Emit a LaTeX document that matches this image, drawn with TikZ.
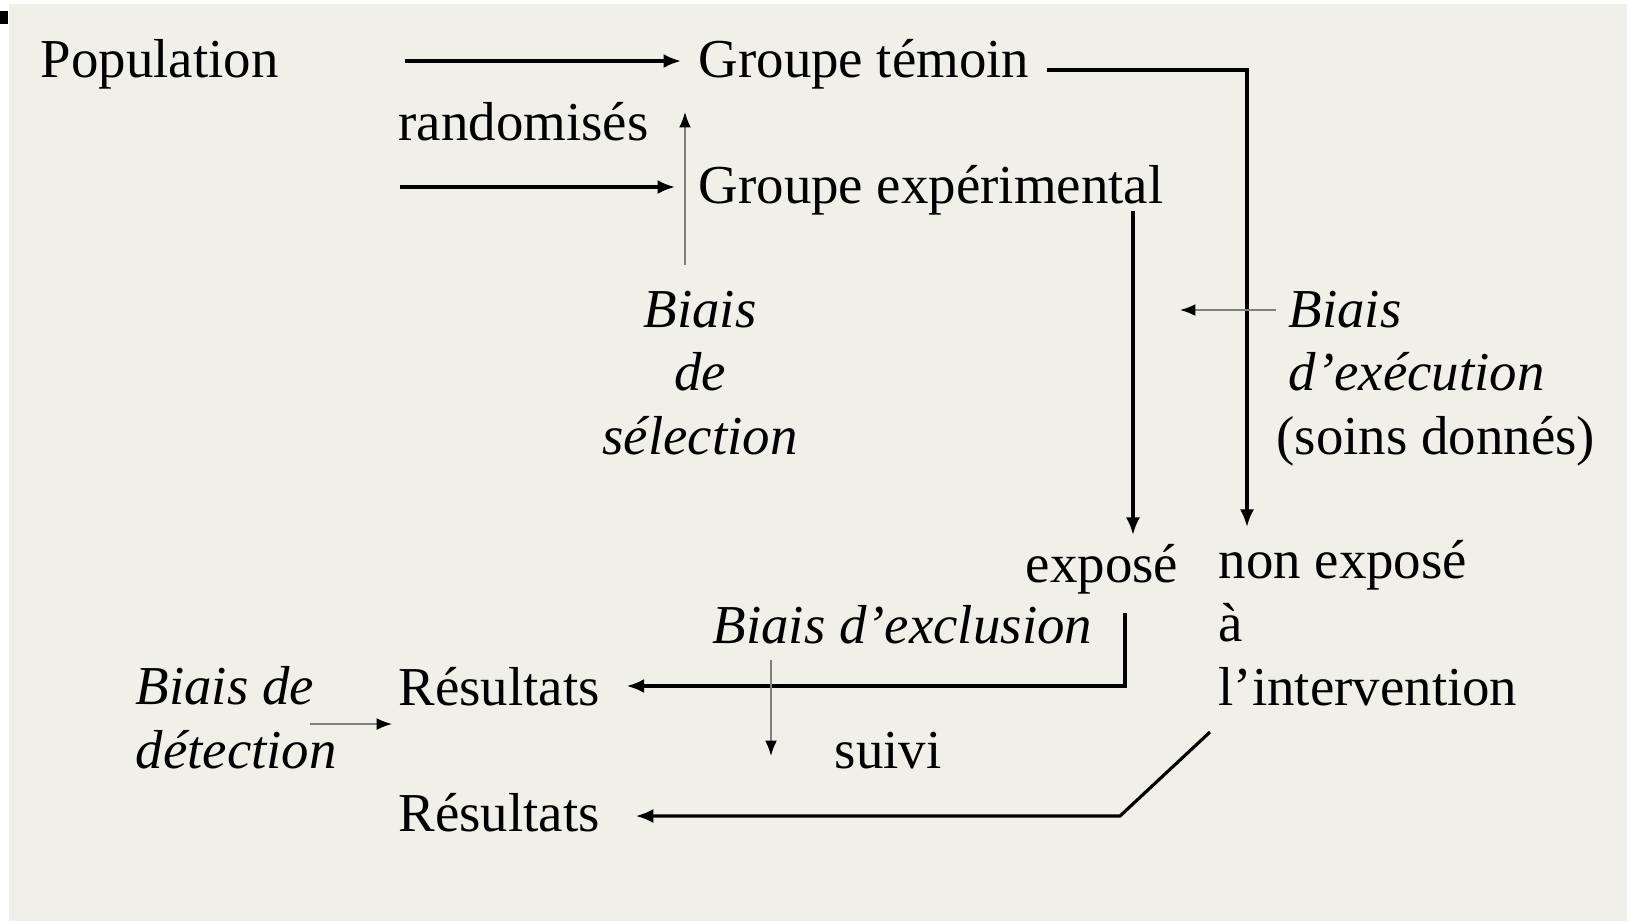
\documentclass[tikz,border=0pt]{standalone}
\usepackage{fontspec}
\setmainfont{Liberation Serif}
\usepackage{xcolor}
\usetikzlibrary{arrows.meta}
\definecolor{bg}{RGB}{240,240,233}
\tikzset{>={Latex[length=5pt,width=4pt]}}
\tikzset{
  txt/.style={inner sep=0pt, anchor=base west, font=\fontsize{15.6}{18}\selectfont},
  bias/.style={txt, font=\fontsize{15.6}{18}\selectfont\itshape},
  link/.style={line width=0.9pt, ->},
  hint/.style={line width=0.5pt, gray, -{Latex[length=4.4pt,width=3.4pt,black]}}
}

\begin{document}
\begin{tikzpicture}[x=0.01cm, y=-0.01cm]
          \useasboundingbox (0,0) rectangle (1629,923);
          \fill[white] (0,0) rectangle (1629,923);
          \fill[bg] (9,4) rectangle (1627,921);
          \fill[black] (0,11) rectangle (8,24);
          \node[txt] (pop) at (40,77) {Population};
          \node[txt] (temoin) at (698,77) {Groupe témoin};
          \node[txt] (rand) at (398,140) {randomisés};
          \node[txt] (exper) at (698,203) {Groupe expérimental};
          \node[bias, align=center, anchor=base] (selbias) at (700,454) {Biais\\de\\sélection};
          \node[bias, align=left] (execbias) at (1276,454) {\hspace*{3.4pt}Biais\\\hspace*{3.4pt}d’exécution\\\textup{(soins donnés)}};
          \node[txt, anchor=base east] (expose) at (1179,582) {exposé};
          \node[txt, align=left] (nonexp) at (1218,705) {non exposé\\à\\l’intervention};
          \node[bias] (exclbias) at (712,643) {Biais d’exclusion};
          \node[txt] (res1) at (398,705) {Résultats};
          \node[bias, align=left] (detbias) at (135,768) {Biais de\\détection};
          \node[txt] (suivi) at (834,768) {suivi};
          \node[txt] (res2) at (398,831) {Résultats};
          \coordinate (popA) at (405,61);
          \coordinate (popB) at (400,187);
          \coordinate (temoinout) at (1047,70);
          \coordinate (experout) at (1133,211);
          \coordinate (exposeout) at (1125,613);
          \coordinate (nonexpout) at (1210,732);
          \coordinate (nonexpbend) at (1120,816);
          \draw[link, shorten >=4.8pt] (popA) -- (temoin.west |- popA);
          \draw[link, shorten >=6.5pt] (popB) -- (exper.west |- popB);
          \draw[link] (temoinout) -| (1247,527);
          \draw[link] (experout) -- (1133,535);
          \draw[link, shorten >=7.4pt] (exposeout) |- (res1.east |- 0,686);
          \draw[link, shorten >=10pt] (nonexpout) -- (nonexpbend) -- (res2.east |- nonexpbend);
          \draw[hint] (685,265) -- (685,112);
          \draw[hint] (execbias.west |- 0,310) -- (1180,310);
          \draw[hint, shorten >=1.7pt] (310,724) -- (res1.west |- 0,724);
          \draw[hint] (771,660) -- (771,756);
        \end{tikzpicture}
\end{document}
